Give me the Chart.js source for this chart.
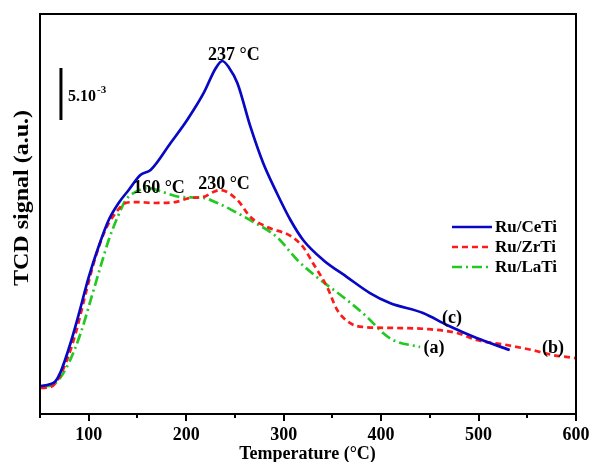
<!DOCTYPE html>
<html>
<head>
<meta charset="utf-8">
<script src="https://cdn.jsdelivr.net/npm/chart.js@4.4.1/dist/chart.umd.min.js"></script>
<style>
html,body{margin:0;padding:0;background:#fff;}
#wrap{width:589px;height:462px;position:relative;}
</style>
</head>
<body>
<div id="wrap"><canvas id="c" width="589" height="462"></canvas></div>
<script>
// Temperature (°C) and TCD signal (x10^-3, a.u.)
const ceTiT = [51, 60, 66, 71, 81.6, 89.8, 100, 110, 120.5, 130.7, 141, 153, 163.5, 184, 201, 218, 230, 237, 244, 252.5, 266, 279, 293, 307, 320, 340.5, 365, 388.6, 409, 443, 467.5, 498, 532];
const ceTiV = [2.69, 2.85, 3.17, 4.0, 6.9, 9.6, 13.17, 16.06, 18.65, 20.29, 21.54, 22.98, 23.46, 26.06, 28.27, 30.87, 33.2, 33.94, 33.3, 31.83, 27.60, 24.13, 21.25, 18.65, 16.73, 14.81, 13.17, 11.63, 10.67, 9.71, 8.56, 7.31, 6.15];

const zrTiT = [50.9, 61, 66, 76.5, 86.7, 97, 107, 117, 127.6, 138, 148, 168.6, 189, 204, 217.7, 228, 235, 252.5, 266, 283, 307, 320, 330, 344.6, 355, 368, 381, 416, 447, 477.7, 498, 529, 555, 576, 600];
const zrTiV = [2.50, 2.60, 2.98, 4.90, 7.79, 11.63, 15.10, 17.69, 19.33, 20.29, 20.38, 20.29, 20.38, 20.77, 20.87, 21.35, 21.54, 20.58, 18.94, 17.98, 17.12, 16.06, 14.52, 12.21, 10.0, 8.75, 8.37, 8.27, 8.17, 7.79, 7.12, 6.63, 6.15, 5.67, 5.38];

const laTiT = [52, 66, 79.5, 91.8, 102, 112, 120.5, 129.7, 138, 148, 161, 175.7, 194, 217.7, 232, 252.5, 269, 293, 314, 334, 361, 385.6, 402, 412, 440];
const laTiV = [2.60, 2.98, 4.90, 7.79, 10.96, 14.13, 16.73, 18.94, 20.58, 21.35, 21.73, 21.35, 20.87, 20.77, 20.29, 19.33, 18.46, 17.02, 14.81, 13.17, 11.25, 9.33, 7.79, 7.12, 6.44];

const seriesNames = ['Ru/CeTi', 'Ru/ZrTi', 'Ru/LaTi'];
const xTicks = [100, 200, 300, 400, 500, 600];
const peakLabels = ['237 °C', '160 °C', '230 °C'];
const curveLabels = ['(c)', '(a)', '(b)'];

const COLORS = ['#0808c4', '#ff1a1a', '#22c922'];
const DASHES = [[], [6, 4], [10, 4, 2, 4]];
const SERIF = '"Liberation Serif", "Times New Roman", serif';

function pts(xs, ys) { return xs.map((x, i) => ({x: x, y: ys[i]})); }

const decor = {
  id: 'decor',
  afterDraw(chart) {
    const ctx = chart.ctx, a = chart.chartArea;
    const xs = chart.scales.x, ys = chart.scales.y;
    const X = v => xs.getPixelForValue(v), Y = v => ys.getPixelForValue(v);
    ctx.save();
    // frame
    ctx.strokeStyle = '#000'; ctx.lineWidth = 2; ctx.setLineDash([]);
    ctx.strokeRect(a.left, a.top, a.right - a.left, a.bottom - a.top);
    // x ticks (major every 100, minor every 50)
    for (let t = 50; t <= 600; t += 50) {
      const px = Math.round(X(t));
      const len = (t % 100 === 0) ? 7 : 4;
      ctx.beginPath(); ctx.moveTo(px, a.bottom); ctx.lineTo(px, a.bottom + len); ctx.stroke();
    }
    // scale bar
    ctx.lineWidth = 3;
    ctx.beginPath(); ctx.moveTo(X(71.5), Y(33.27)); ctx.lineTo(X(71.5), Y(28.27)); ctx.stroke();
    ctx.fillStyle = '#000';
    ctx.textBaseline = 'alphabetic'; ctx.textAlign = 'left';
    ctx.font = 'bold 16px ' + SERIF;
    ctx.fillText('5.10', X(78.7), Y(30.1));
    const w = ctx.measureText('5.10').width;
    ctx.font = 'bold 11px ' + SERIF;
    ctx.fillText('-3', X(78.7) + w + 1, Y(30.1) - 8);
    // peak labels
    ctx.font = 'bold 18px ' + SERIF; ctx.textAlign = 'center';
    ctx.fillText(peakLabels[0], X(249), Y(34.04));
    ctx.fillText(peakLabels[1], X(172.1), Y(21.25));
    ctx.fillText(peakLabels[2], X(238.8), Y(21.63));
    // curve labels
    ctx.fillText(curveLabels[0], X(472.8), Y(8.75));
    ctx.fillText(curveLabels[1], X(454.3), Y(5.87));
    ctx.fillText(curveLabels[2], X(576.4), Y(5.87));
    // legend
    ctx.font = 'bold 17px ' + SERIF; ctx.textAlign = 'left'; ctx.textBaseline = 'middle';
    for (let i = 0; i < 3; i++) {
      const ly = a.top + 213 + i * 20;
      ctx.strokeStyle = COLORS[i]; ctx.lineWidth = 2.5; ctx.setLineDash(DASHES[i]);
      ctx.beginPath(); ctx.moveTo(a.right - 124, ly); ctx.lineTo(a.right - 84, ly); ctx.stroke();
      ctx.setLineDash([]);
      ctx.fillStyle = '#000';
      ctx.fillText(seriesNames[i], a.right - 81, ly + 1);
    }
    // axis titles
    ctx.textBaseline = 'alphabetic'; ctx.textAlign = 'center';
    ctx.font = 'bold 18px ' + SERIF;
    ctx.fillText('Temperature (°C)', (a.left + a.right) / 2 - 0.5, 459);
    ctx.save();
    ctx.translate(28, 198);
    ctx.rotate(-Math.PI / 2);
    ctx.scale(1.2, 1);
    ctx.font = 'bold 20px ' + SERIF;
    ctx.fillText('TCD signal (a.u.)', 0, 0);
    ctx.restore();
    ctx.restore();
  }
};

const mk = (i, xs, ys) => ({
  label: seriesNames[i],
  data: pts(xs, ys),
  borderColor: COLORS[i],
  borderWidth: 2.7,
  borderDash: DASHES[i],
  pointRadius: 0,
  fill: false,
  cubicInterpolationMode: 'monotone',
  tension: 0.4
});

new Chart(document.getElementById('c'), {
  type: 'line',
  data: { datasets: [mk(0, ceTiT, ceTiV), mk(1, zrTiT, zrTiV), mk(2, laTiT, laTiV)] },
  options: {
    responsive: false,
    animation: false,
    layout: { padding: { left: 40, top: 14, right: 13, bottom: 0 } },
    plugins: { legend: { display: false }, tooltip: { enabled: false } },
    scales: {
      x: {
        type: 'linear', min: 50, max: 600,
        afterFit(s) { s.height = 48; s.paddingLeft = 0; s.paddingRight = 0; },
        afterBuildTicks(s) { s.ticks = xTicks.map(v => ({value: v})); },
        grid: { display: false, drawTicks: false },
        border: { display: false },
        ticks: { color: '#000', padding: 11, font: { family: SERIF, size: 18, weight: 'bold' }, maxRotation: 0, autoSkip: false }
      },
      y: {
        type: 'linear', min: 0, max: 38.46, display: false
      }
    }
  },
  plugins: [decor]
});
</script>
</body>
</html>
